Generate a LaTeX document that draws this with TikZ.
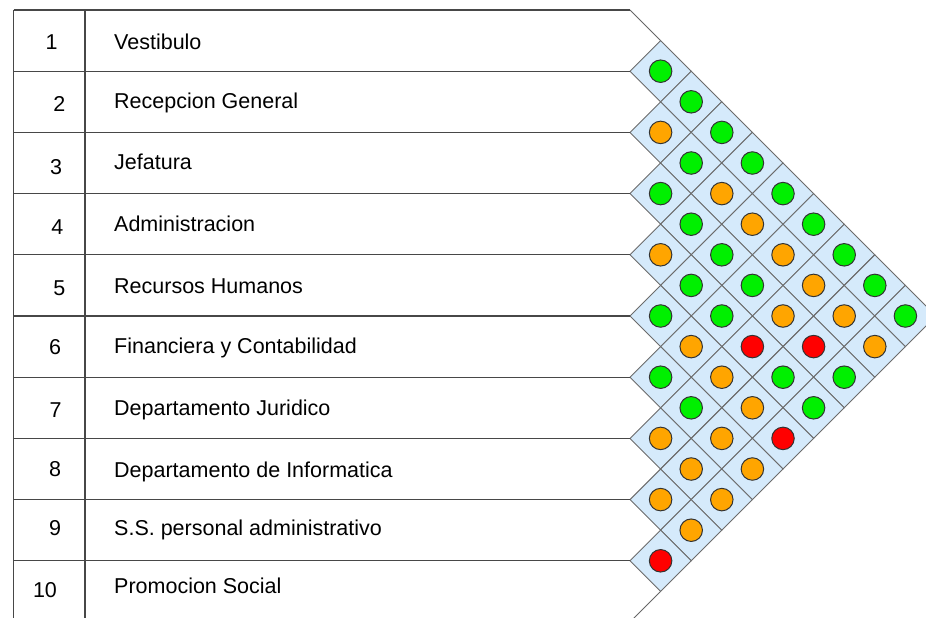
\documentclass[tikz,border=0pt]{standalone}
\usepackage{fontspec}
\setmainfont{Liberation Sans}
\definecolor{cellblue}{HTML}{D5EAFB}
\definecolor{cgreen}{HTML}{00F000}
\definecolor{corange}{HTML}{FFA500}
\definecolor{cred}{HTML}{FF0000}
\definecolor{G}{HTML}{00F000}
\definecolor{O}{HTML}{FFA500}
\definecolor{R}{HTML}{FF0000}
\begin{document}
\begin{tikzpicture}[x=1pt,y=-1pt,
  rowline/.style={draw=black!72, line width=1.3pt},
  edgeline/.style={draw=black!60, line width=0.9pt},
  cellbox/.style={fill=cellblue, draw=black!58, line width=0.9pt},
  dot/.style={circle, minimum size=22.5pt, inner sep=0pt, draw=black!80, line width=1pt},
  numlabel/.style={anchor=base, inner sep=0pt, font=\fontsize{21.5}{24}\selectfont},
  namelabel/.style={anchor=base west, inner sep=0pt, font=\fontsize{21.5}{24}\selectfont}]
\useasboundingbox (0,0) rectangle (926,618);
\clip (0,0) rectangle (926,618);
% diamond cells
\foreach \i in {1,...,9}{
  \pgfmathtruncatemacro\jstart{\i+1}
  \foreach \j in {\jstart,...,10}{
    \pgfmathsetmacro\cx{630+30.6*(\j-\i)}
    \pgfmathsetmacro\cy{10+30.6*(\i+\j-1)}
    \draw[cellbox] (\cx-30.6,\cy) -- (\cx,\cy-30.6) -- (\cx+30.6,\cy) -- (\cx,\cy+30.6) -- cycle;
  }}
% row lines
\foreach \k in {0,...,10}{
  \draw[rowline] (13.5,10+61.2*\k) -- (630,10+61.2*\k);
}
\draw[rowline] (13.5,10) -- (13.5,630);
\draw[rowline] (85,10) -- (85,630);
\draw[edgeline] (630,10) -- (660.6,40.6);
\draw[edgeline] (660.6,591.4) -- (630,622);
% circles
\foreach \i/\j/\c in {1/2/G,1/3/G,1/4/G,1/5/G,1/6/G,1/7/G,1/8/G,1/9/G,1/10/G,
  2/3/O,2/4/G,2/5/O,2/6/O,2/7/O,2/8/O,2/9/O,2/10/O,
  3/4/G,3/5/G,3/6/G,3/7/G,3/8/O,3/9/R,3/10/G,
  4/5/O,4/6/G,4/7/G,4/8/R,4/9/G,4/10/G,
  5/6/G,5/7/O,5/8/O,5/9/O,5/10/R,
  6/7/G,6/8/G,6/9/O,6/10/O,
  7/8/O,7/9/O,7/10/O,
  8/9/O,8/10/O,
  9/10/R}{
  \pgfmathsetmacro\cx{630+30.6*(\j-\i)}
  \pgfmathsetmacro\cy{10+30.6*(\i+\j-1)}
  \node[dot, fill=\c] (c\i-\j) at (\cx,\cy) {};
}
% numbers
\foreach \n/\x/\y in {1/51.7/41.7,2/59.3/104,3/56/166.7,4/57.3/227,5/59.3/288,
  6/55/346.7,7/55.7/410,8/55/469,9/55/528,10/45/590}{
  \node[numlabel] (n\n) at (\x,\y+7.7) {\n};
}
% names
\foreach \n/\y/\t in {1/42/Vestibulo,2/101/Recepcion General,3/161.5/Jefatura,
  4/224/Administracion,5/286/Recursos Humanos,6/346/Financiera y Contabilidad,
  7/408/Departamento Juridico,8/470/Departamento de Informatica,
  9/527.5/S.S. personal administrativo,10/586/Promocion Social}{
  \node[namelabel] (t\n) at (114,\y+7.7) {\t};
}
\end{tikzpicture}
\end{document}
